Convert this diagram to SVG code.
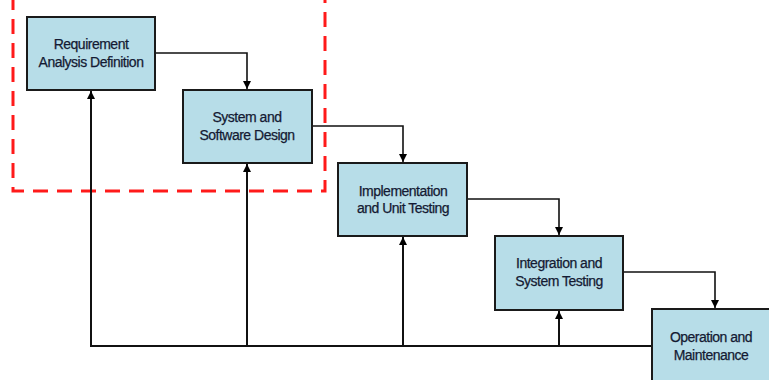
<svg xmlns="http://www.w3.org/2000/svg" width="769" height="380" viewBox="0 0 769 380">
<style>
.box{fill:#b7dde8;stroke:#1a1a1a;stroke-width:2}
.lbl{font-family:"Liberation Sans",Arial,sans-serif;font-size:14px;fill:#141a33;stroke:#141a33;stroke-width:0.25;text-anchor:middle;letter-spacing:-0.5px}
.c{fill:none;stroke:#111;stroke-width:1.6}
.fb{fill:none;stroke:#111;stroke-width:2}
</style>
<defs>
<marker id="ah" viewBox="0 0 10 10" refX="10" refY="5" markerWidth="8" markerHeight="8" markerUnits="userSpaceOnUse" orient="auto">
<path d="M0,0 L10,5 L0,10 z" fill="#000"/>
</marker>
</defs>
<rect width="769" height="380" fill="#fff"/>
<path d="M13,-5 V191 H325 V-5" fill="none" stroke="#ff1a1a" stroke-width="3" stroke-dasharray="15 9"/>
<g id="connectors">
<path class="c" d="M155,53 H247 V89" marker-end="url(#ah)"/>
<path class="c" d="M312,126 H403 V162" marker-end="url(#ah)"/>
<path class="c" d="M467,199 H559 V235" marker-end="url(#ah)"/>
<path class="c" d="M623,272 H715 V308" marker-end="url(#ah)"/>
<path class="fb" d="M652,346 H91 V91" marker-end="url(#ah)"/>
<path class="fb" d="M247,346 V164" marker-end="url(#ah)"/>
<path class="fb" d="M403,346 V237" marker-end="url(#ah)"/>
<path class="fb" d="M559,346 V311" marker-end="url(#ah)"/>
</g>
<g id="n1"><rect class="box" x="27" y="17" width="128" height="73"/><text class="lbl" x="91" y="49">Requirement</text><text class="lbl" x="91" y="67">Analysis Definition</text></g>
<g id="n2"><rect class="box" x="183" y="90" width="129" height="73"/><text class="lbl" x="247" y="122">System and</text><text class="lbl" x="247" y="140">Software Design</text></g>
<g id="n3"><rect class="box" x="338" y="163" width="129" height="73"/><text class="lbl" x="403" y="196">Implementation</text><text class="lbl" x="403" y="213">and Unit Testing</text></g>
<g id="n4"><rect class="box" x="495" y="236" width="128" height="74"/><text class="lbl" x="559" y="268">Integration and</text><text class="lbl" x="559" y="286">System Testing</text></g>
<g id="n5"><rect class="box" x="652" y="309" width="120" height="75"/><text class="lbl" x="711" y="342">Operation and</text><text class="lbl" x="711" y="360">Maintenance</text></g>
</svg>
